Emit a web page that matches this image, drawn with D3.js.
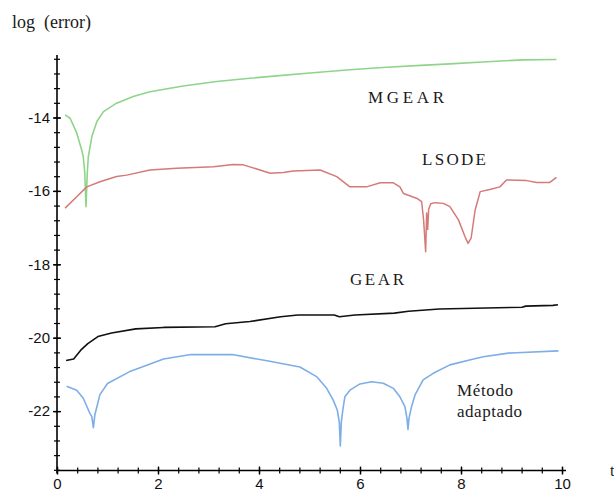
<!DOCTYPE html>
<html>
<head>
<meta charset="utf-8">
<script src="https://cdn.jsdelivr.net/npm/d3@7"></script>
<style>
  body { margin: 0; background: #fff; }
  svg { display: block; }
  .tick text { font-family: "Liberation Sans", Arial, sans-serif; font-size: 15px; fill: #111; }
  .lbl { font-family: "Liberation Serif", "Times New Roman", serif; fill: #1a1a1a; }
</style>
</head>
<body>
<script>

// values (t, log error)
var mgearT = [0.16,0.26,0.39,0.49,0.52,0.55,0.574,0.60,0.62,0.69,0.79,0.92,1.18,1.51,1.84,2.5,3.16,3.82,4.4,5.07,5.8,6.53,7.2,7.78,8.51,9.23,9.89];
var mgearV = [-13.93,-14.02,-14.42,-14.89,-15.07,-15.5,-16.43,-15.5,-15.07,-14.52,-14.11,-13.84,-13.61,-13.43,-13.30,-13.14,-13.02,-12.93,-12.86,-12.78,-12.70,-12.63,-12.58,-12.54,-12.48,-12.43,-12.42];

var lsodeT = [0.16,0.39,0.59,0.85,1.18,1.38,1.84,2.37,3.10,3.49,3.69,4.02,4.22,4.48,4.68,5.21,5.54,5.80,6.13,6.40,6.66,6.79,6.86,7.12,7.22,7.26,7.30,7.32,7.34,7.36,7.40,7.49,7.65,7.78,7.95,8.08,8.14,8.20,8.28,8.38,8.57,8.77,8.90,9.30,9.50,9.76,9.89];
var lsodeV = [-16.47,-16.16,-15.89,-15.75,-15.61,-15.57,-15.43,-15.38,-15.34,-15.28,-15.29,-15.43,-15.52,-15.50,-15.46,-15.43,-15.61,-15.89,-15.89,-15.78,-15.78,-15.89,-16.07,-16.20,-16.29,-16.8,-17.66,-16.6,-17.05,-16.5,-16.35,-16.32,-16.34,-16.43,-16.79,-17.25,-17.43,-17.29,-16.52,-16.02,-15.96,-15.89,-15.70,-15.72,-15.77,-15.77,-15.63];

var gearT = [0.18,0.33,0.47,0.61,0.81,1.08,1.56,2.11,3.13,3.34,3.82,4.43,4.77,5.49,5.59,5.90,6.68,6.96,7.57,8.5,9.21,9.28,9.82,9.92];
var gearV = [-20.62,-20.58,-20.34,-20.16,-19.97,-19.87,-19.76,-19.72,-19.70,-19.62,-19.56,-19.43,-19.38,-19.38,-19.43,-19.38,-19.33,-19.28,-19.22,-19.19,-19.17,-19.14,-19.12,-19.10];

var adaptT = [0.19,0.39,0.52,0.65,0.69,0.72,0.75,0.85,1.0,1.43,2.11,2.65,3.47,4.16,4.81,5.14,5.34,5.47,5.55,5.59,5.61,5.63,5.66,5.70,5.80,6.0,6.23,6.46,6.66,6.79,6.89,6.93,6.95,6.97,7.02,7.09,7.25,7.45,7.78,8.25,8.44,8.94,9.10,9.93];
var adaptV = [-21.32,-21.43,-21.65,-22.06,-22.15,-22.45,-22.1,-21.55,-21.25,-20.93,-20.58,-20.46,-20.46,-20.63,-20.8,-21.06,-21.38,-21.70,-21.97,-22.3,-22.95,-22.3,-21.97,-21.61,-21.43,-21.26,-21.20,-21.24,-21.38,-21.61,-21.88,-22.2,-22.5,-22.2,-21.88,-21.56,-21.15,-20.97,-20.74,-20.58,-20.52,-20.42,-20.41,-20.36];

var xMajor = [0,2,4,6,8,10];
var yMajor = [-22,-20,-18,-16,-14];
var xMinor = d3.range(0, 10.01, 0.4);
var yMinor = d3.range(-23.6, -12.3, 0.4);

var width = 614, height = 492;

var svg = d3.select("body").append("svg")
    .attr("width", width)
    .attr("height", height);

var x = d3.scaleLinear().domain([0, 10]).range([57, 562]);
var y = d3.scaleLinear().domain([-14, -22]).range([117.5, 411.1]);

var axisY = y(-23.62);   // where the t axis sits
var topY = y(-12.3);

// minor ticks, both axes
var gx = svg.append("g")
    .attr("transform", "translate(0," + axisY + ")")
    .call(d3.axisBottom(x).tickValues(xMinor).tickSize(3).tickFormat(""));
gx.selectAll(".tick line").attr("y1", -3).attr("stroke-width", 1.2);
gx.select(".domain").remove();

var gx2 = svg.append("g")
    .attr("transform", "translate(0," + axisY + ")")
    .call(d3.axisBottom(x).tickValues(xMajor).tickSize(4).tickPadding(2).tickFormat(d3.format("d")));
gx2.selectAll(".tick line").attr("y1", -4).attr("stroke-width", 1.4);
gx2.select(".domain").remove();
gx2.selectAll(".tick text").attr("dy", "0.8em");

var gy = svg.append("g")
    .attr("transform", "translate(" + x(0) + ",0)")
    .call(d3.axisLeft(y).tickValues(yMinor).tickSize(3).tickFormat(""));
gy.selectAll(".tick line").attr("x1", 3).attr("stroke-width", 1.2);
gy.select(".domain").remove();

var gy2 = svg.append("g")
    .attr("transform", "translate(" + x(0) + ",0)")
    .call(d3.axisLeft(y).tickValues(yMajor).tickSize(4).tickPadding(3).tickFormat(d3.format("d")));
gy2.selectAll(".tick line").attr("x1", 4).attr("stroke-width", 1.4);
gy2.select(".domain").remove();
gy2.selectAll(".tick text").text(function(d) { return "-" + Math.abs(d); });

// axis lines
svg.append("line")
    .attr("x1", x(0)).attr("x2", x(10) + 4)
    .attr("y1", axisY).attr("y2", axisY)
    .attr("stroke", "#000").attr("stroke-width", 1.6);
svg.append("line")
    .attr("x1", x(0)).attr("x2", x(0))
    .attr("y1", topY).attr("y2", axisY + 3)
    .attr("stroke", "#000").attr("stroke-width", 1.6);

var line = d3.line()
    .x(function(d) { return x(d[0]); })
    .y(function(d) { return y(d[1]); });

function draw(ts, vs, color, w) {
  svg.append("path")
      .datum(d3.zip(ts, vs))
      .attr("d", line)
      .attr("fill", "none")
      .attr("stroke", color)
      .attr("stroke-width", w)
      .attr("stroke-linejoin", "round");
}

draw(mgearT, mgearV, "#8fd48a", 1.6);
draw(lsodeT, lsodeV, "#d47a78", 1.5);
draw(gearT, gearV, "#111", 1.6);
draw(adaptT, adaptV, "#7eaee6", 1.6);

// labels
svg.append("text").attr("class", "lbl")
    .attr("x", 12).attr("y", 28)
    .style("font-size", "18px")
    .style("white-space", "pre")
    .text("log  (error)");

function label(txt, x0, yb, len, size) {
  svg.append("text").attr("class", "lbl")
      .attr("x", x0).attr("y", yb)
      .attr("textLength", len).attr("lengthAdjust", "spacing")
      .style("font-size", size + "px")
      .text(txt);
}
label("MGEAR", 368, 103, 76, 17);
label("LSODE", 422, 165, 64, 17);
label("GEAR", 350, 285, 54, 17);
label("Método", 457, 396, 56, 17);
label("adaptado", 457, 417, 65, 17);

svg.append("text").attr("class", "lbl")
    .attr("x", 610).attr("y", 476)
    .style("font-size", "16px")
    .text("t");

</script>
</body>
</html>
